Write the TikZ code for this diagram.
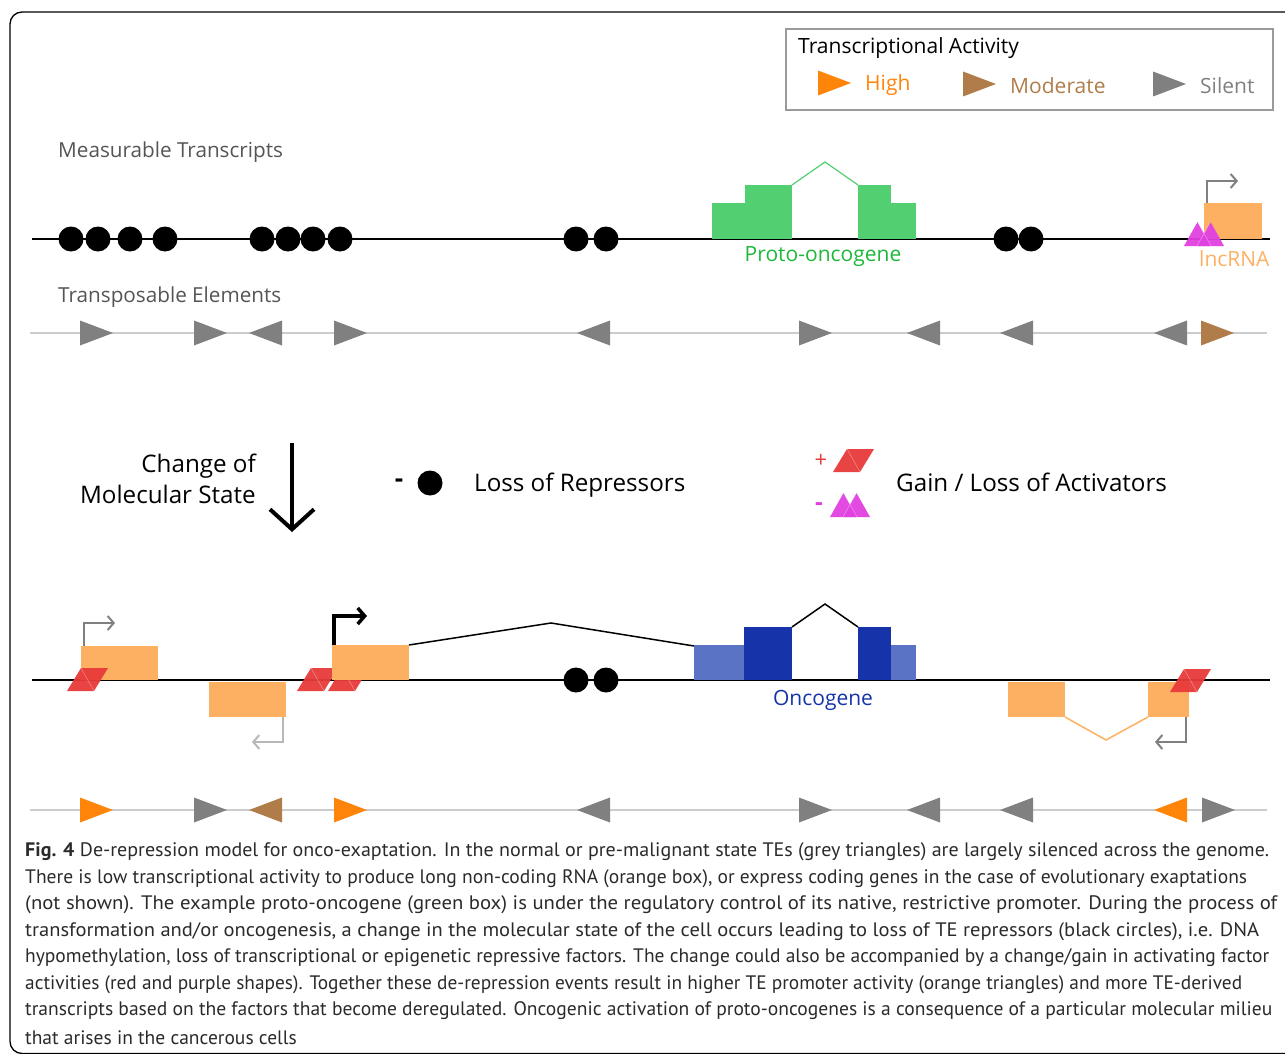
\documentclass[tikz,border=0pt]{standalone}
\usepackage{fontspec}
\usepackage{graphicx}
\setmainfont{Open Sans}
\newfontfamily\capfont{PT Sans}
\usetikzlibrary{arrows.meta}
\definecolor{teGrey}{HTML}{808080}
\definecolor{teMod}{HTML}{B07D4A}
\definecolor{teHigh}{HTML}{FF850A}
\definecolor{boxOr}{HTML}{FDB062}
\definecolor{geneGreen}{HTML}{52D071}
\definecolor{txtGreen}{HTML}{1DB83A}
\definecolor{darkBlue}{HTML}{1733AA}
\definecolor{lightBlue}{HTML}{5B73C4}
\definecolor{actRed}{HTML}{E83A3A}
\definecolor{actMag}{HTML}{E040E0}
\definecolor{labGrey}{HTML}{555555}
\definecolor{lineGrey}{HTML}{CCCCCC}
\definecolor{capText}{HTML}{2A2A2A}
\newcommand\TEr[3]{\fill[#3] (#1,#2-12.5) -- ++(33,12.5) -- ++(-33,12.5) -- cycle;}
\newcommand\TEl[3]{\fill[#3] ({#1+33},#2-12.5) -- ++(-33,12.5) -- ++(33,12.5) -- cycle;}
\newcommand\actPara[2]{%
  \fill[actRed,opacity=0.95] (#1,#2) -- ++(27,0) -- ++(14,-23) -- ++(-27,0) -- cycle;
  \draw[white,opacity=0.35,line width=0.6] ({#1+14},#2-23) -- ({#1+27},#2);}
\newcommand\actTri[2]{%
  \fill[actMag,opacity=0.95] (#1,#2) -- ++(27,0) -- ++(-13.5,-24) -- cycle;
  \fill[actMag,opacity=0.95] ({#1+13},#2) -- ++(27,0) -- ++(-13.5,-24) -- cycle;
  \draw[white,opacity=0.35,line width=0.6] ({#1+13},#2) -- ({#1+26.5},#2-24) ({#1+27},#2) -- ({#1+13.5},#2-24);}
\newcommand\capline[2]{\resizebox{#1pt}{\height}{#2}}
\tikzset{
  lab/.style={font=\fontsize{20.7}{24}\selectfont, text=labGrey, inner sep=0pt},
  big/.style={font=\fontsize{24.2}{28}\selectfont, text=black, inner sep=0pt},
  small/.style={font=\fontsize{21}{24}\selectfont, inner sep=0pt},
  captxt/.style={font=\capfont\fontsize{19.5}{24}\selectfont, text=capText, inner sep=0pt, anchor=west},
  repr/.style={circle, fill=black, minimum size=25, inner sep=0pt},
  prom/.style={line width=2, -{Straight Barb[length=6,width=14,line width=2]}},
}
\begin{document}
\begin{tikzpicture}[x=1pt,y=-1pt]
\useasboundingbox (0,0) rectangle (1285,1054);
% frame
\draw[black,line width=1.3,rounded corners=12] (10,12) rectangle (1310,1053.5);

% legend
\draw[teGrey!80,line width=1.2] (786,29) rectangle (1273,110);
\node[small,anchor=west] (legT) at (798,48) {Transcriptional Activity};
\TEr{818}{83}{teHigh}
\node[small,anchor=west,text=teHigh] (legH) at (865,85) {High};
\TEr{963}{84}{teMod}
\node[small,anchor=west,text=teMod] (legM) at (1010,86) {Moderate};
\TEr{1153}{84}{teGrey}
\node[small,anchor=west,text=teGrey] (legS) at (1200,86) {Silent};

% ---------- top: measurable transcripts
\node[lab,anchor=west] (mt) at (58,152) {Measurable Transcripts};
\draw[black,line width=1.8] (32,239) -- (1270,239);
\foreach \x [count=\i] in {71,98,130,165,262,288,313,340,576,606,1006,1031}
  \node[repr] (r\i) at (\x,239) {};
% proto-oncogene
\fill[geneGreen] (712,203) rectangle (745,239);
\fill[geneGreen] (745,185) rectangle (792,239);
\fill[geneGreen] (858,185) rectangle (891,239);
\fill[geneGreen] (891,203) rectangle (916,239);
\draw[geneGreen,line width=1.2] (792,185) -- (825,162) -- (858,185);
\node[small,text=txtGreen] (pog) at (823,257) {Proto-oncogene};
% lncRNA
\fill[boxOr] (1204,203) rectangle (1262,239);
\coordinate (lp0) at (1207,203);
\coordinate (lp1) at (1238,181);
\draw[prom,teGrey] (lp0) |- (lp1);
\actTri{1184}{246}
\node[small,anchor=west,text=boxOr] (lnc) at (1199,259) {lncRNA};

% transposable elements top
\node[lab,anchor=west] (te) at (58,297) {Transposable Elements};
\draw[lineGrey,line width=2] (30,333) -- (1267,333);
\TEr{80}{333}{teGrey}
\TEr{194}{333}{teGrey}
\TEl{249}{333}{teGrey}
\TEr{334}{333}{teGrey}
\TEl{577}{333}{teGrey}
\TEr{799}{333}{teGrey}
\TEl{907}{333}{teGrey}
\TEl{1000}{333}{teGrey}
\TEl{1154}{333}{teGrey}
\TEr{1201}{333}{teMod}

% ---------- middle
\node[big,anchor=base east] (ch1) at (256,472) {Change of};
\node[big,anchor=base east] (ch2) at (256,503) {Molecular State};
\coordinate (arA) at (292,443);
\coordinate (arB) at (292,532);
\draw[black,line width=4,-{Straight Barb[length=20,width=44,line width=4]}] (arA) -- (arB);
\node[big,font=\fontsize{26}{28}\bfseries] (minus1) at (399,483) {-};
\node[repr] (legR) at (430,483) {};
\node[big,anchor=base west] (lr) at (474,491) {Loss of Repressors};
\node[font=\fontsize{22}{24}\selectfont,text=actRed,inner sep=0pt] (plus) at (821,461) {+};
\actPara{833}{472}
\node[font=\fontsize{24}{24}\bfseries,text=actMag,inner sep=0pt] (minus2) at (819,507) {-};
\actTri{830}{517}
\node[big,anchor=base west] (ga) at (896,491) {Gain / Loss of Activators};

% ---------- bottom transcripts
\draw[black,line width=1.8] (32,680) -- (1270,680);
% left TE transcript
\fill[boxOr] (81,646) rectangle (158,680);
\coordinate (bp0) at (84,646);
\coordinate (bp1) at (115,623);
\draw[prom,teGrey] (bp0) |- (bp1);
\actPara{67}{691}
% reverse transcript
\fill[boxOr] (209,682) rectangle (286,717);
\coordinate (bp2) at (283,717);
\coordinate (bp3) at (252,742);
\draw[prom,lineGrey!90!black] (bp2) |- (bp3);
% active TE promoter
\actPara{297}{691}
\actPara{328}{691}
\fill[boxOr] (332,645) rectangle (409,680);
\coordinate (bp4) at (334,645);
\coordinate (bp5) at (367,616);
\draw[black,line width=3.5,-{Straight Barb[length=7,width=16,line width=3.5]}] (bp4) |- (bp5);
\coordinate (sp0) at (409,645);
\coordinate (sp1) at (551,623);
\coordinate (sp2) at (694,646);
\draw[black,line width=1.5] (sp0) -- (sp1) -- (sp2);
\node[repr] (r13) at (576,680) {};
\node[repr] (r14) at (606,680) {};
% oncogene
\fill[lightBlue] (694,645) rectangle (744,680);
\fill[darkBlue] (744,627) rectangle (792,680);
\fill[darkBlue] (858,627) rectangle (891,680);
\fill[lightBlue] (891,645) rectangle (916,680);
\draw[black,line width=1.5] (792,627) -- (825,604) -- (858,627);
\node[small,text=darkBlue] (onc) at (823,700) {Oncogene};
% right spliced transcript
\fill[boxOr] (1008,682) rectangle (1065,717);
\fill[boxOr] (1148,682) rectangle (1189,717);
\draw[boxOr,line width=1.5] (1065,717) -- (1106,740) -- (1148,717);
\coordinate (bp6) at (1186,717);
\coordinate (bp7) at (1155,742);
\draw[prom,teGrey] (bp6) |- (bp7);
\actPara{1170}{692}

% transposable elements bottom
\draw[lineGrey,line width=2] (30,810) -- (1267,810);
\TEr{80}{810}{teHigh}
\TEr{194}{810}{teGrey}
\TEl{249}{810}{teMod}
\TEr{334}{810}{teHigh}
\TEl{577}{810}{teGrey}
\TEr{799}{810}{teGrey}
\TEl{907}{810}{teGrey}
\TEl{1000}{810}{teGrey}
\TEl{1154}{810}{teHigh}
\TEr{1202}{810}{teGrey}

% ---------- caption
\node[captxt] (c1) at (25,852) {\capline{1244}{\textbf{Fig. 4} De-repression model for onco-exaptation. In the normal or pre-malignant state TEs (grey triangles) are largely silenced across the genome.}};
\node[captxt] (c2) at (25,879) {\capline{1222}{There is low transcriptional activity to produce long non-coding RNA (orange box), or express coding genes in the case of evolutionary exaptations}};
\node[captxt] (c3) at (25,905) {\capline{1252}{(not shown). The example proto-oncogene (green box) is under the regulatory control of its native, restrictive promoter. During the process of}};
\node[captxt] (c4) at (25,932) {\capline{1234}{transformation and/or oncogenesis, a change in the molecular state of the cell occurs leading to loss of TE repressors (black circles), i.e. DNA}};
\node[captxt] (c5) at (25,958) {\capline{1244}{hypomethylation, loss of transcriptional or epigenetic repressive factors. The change could also be accompanied by a change/gain in activating factor}};
\node[captxt] (c6) at (25,985) {\capline{1217}{activities (red and purple shapes). Together these de-repression events result in higher TE promoter activity (orange triangles) and more TE-derived}};
\node[captxt] (c7) at (25,1011) {\capline{1247}{transcripts based on the factors that become deregulated. Oncogenic activation of proto-oncogenes is a consequence of a particular molecular milieu}};
\node[captxt] (c8) at (25,1038) {that arises in the cancerous cells};
\end{tikzpicture}
\end{document}
